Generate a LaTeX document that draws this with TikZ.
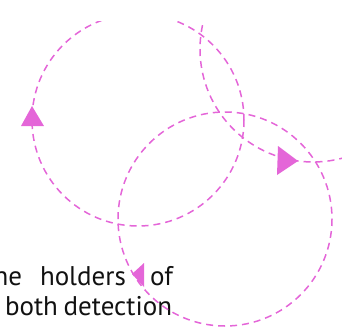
\documentclass[tikz,border=0pt]{standalone}
\usepackage{fontspec}
\setmainfont{PT Sans}
\definecolor{pinkc}{HTML}{E466D8}
\definecolor{inkc}{HTML}{111111}
\begin{document}
\begin{tikzpicture}[x=1pt,y=-1pt,
  txt/.style={inner sep=0pt,outer sep=0pt,text=inkc,font=\fontsize{27}{33}\selectfont},
  ring/.style={draw=pinkc,line width=1.5pt,dash pattern=on 7pt off 5pt},
  head/.style={fill=pinkc,draw=none}]
\useasboundingbox (0,0) rectangle (342,332);
\clip (0,0) rectangle (342,332);
% text
\node[txt,anchor=base east] (w1) at (22,285) {the};
\node[txt,anchor=base west] (w2) at (40,285) {holders};
\node[txt,anchor=base east] (w3) at (173,285) {of};
\node[txt,anchor=base east] (w4) at (58,315) {both};
\node[txt,anchor=base east] (w5) at (172,315) {detection};
% circle centres
\coordinate (c1) at (138,120);
\coordinate (c2) at (225,219);
\coordinate (c3) at (313,49);
\begin{scope}
\clip (0,21) rectangle (342,332);
% circles
\path[ring] (c1) circle[radius=106];
\path[ring] (c2) circle[radius=107];
\path[ring] (c3) circle[radius=113];
\end{scope}
% arrowheads
\path[head] (32,106) -- (44,126) -- (21,126) -- cycle;
\path[head] (132,274) -- (144,263) -- (144,287) -- cycle;
\path[head] (298,161) -- (278,146) -- (277,175) -- cycle;
\end{tikzpicture}
\end{document}
